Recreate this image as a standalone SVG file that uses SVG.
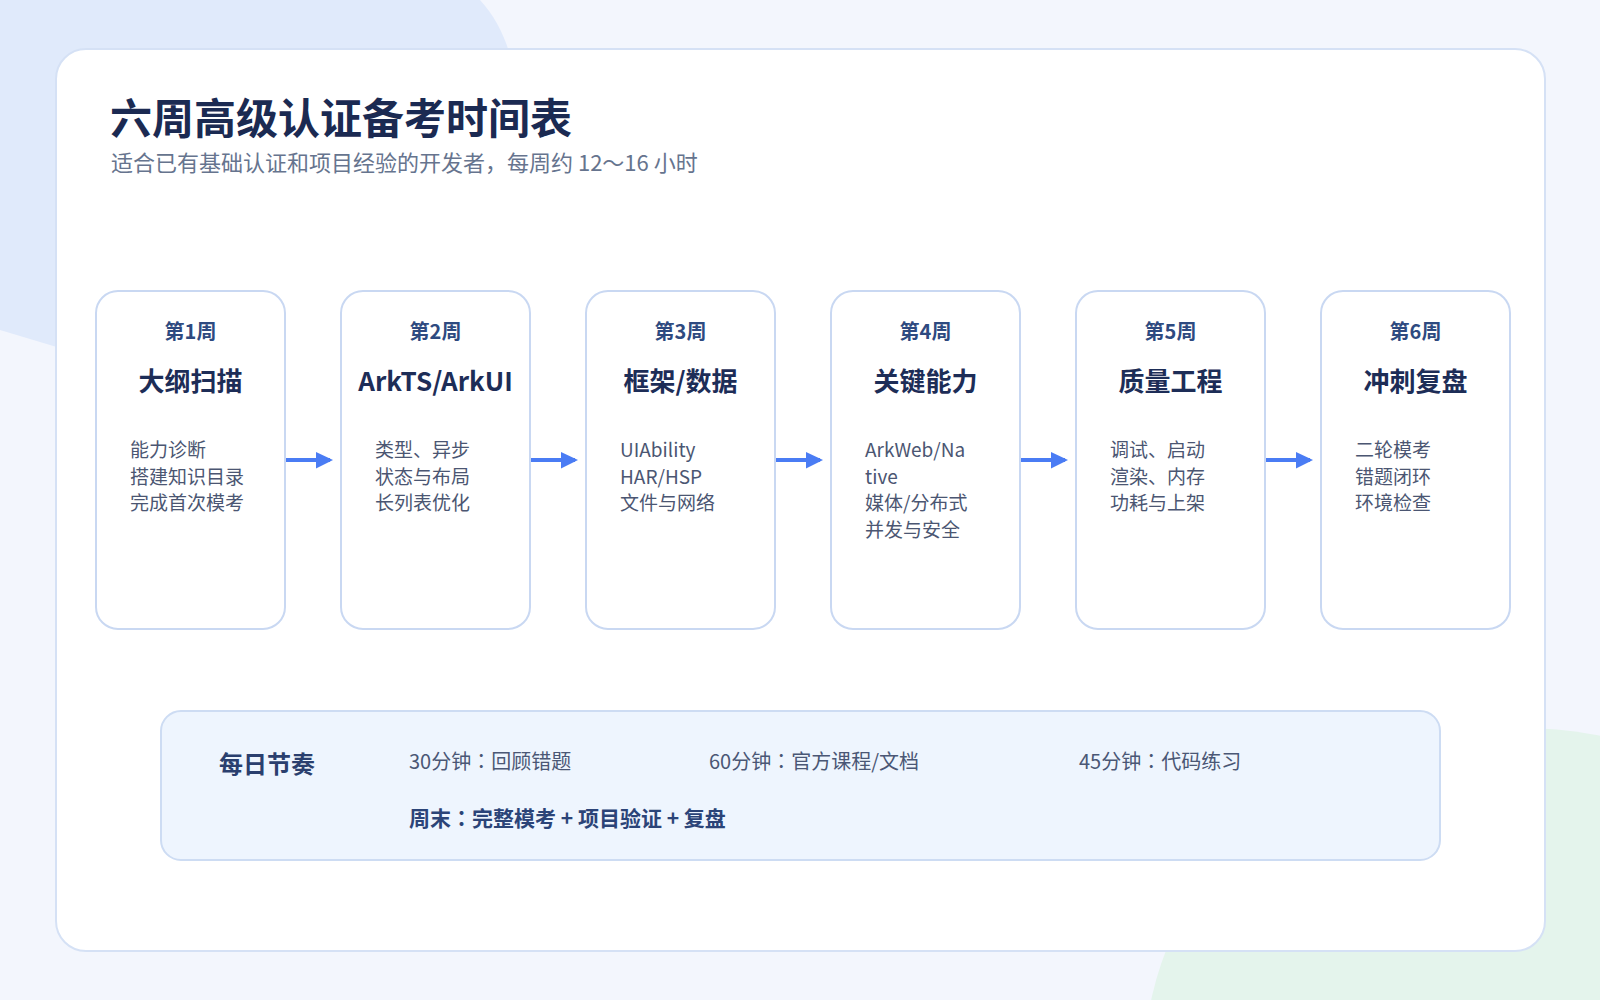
<svg xmlns="http://www.w3.org/2000/svg" width="1600" height="1000" viewBox="0 0 1600 1000">
  <defs>
    <style>
      text { font-family: "Noto Sans CJK SC", "Noto Sans", "Liberation Sans", sans-serif; }
      .jp { font-family: "Noto Sans CJK JP", "Noto Sans CJK SC", sans-serif; }
      .title { font-size: 42px; font-weight: 700; fill: #1b2a52; }
      .subtitle { font-size: 22px; fill: #66748e; }
      .card { fill: #ffffff; stroke: #c9d8f2; stroke-width: 2; }
      .week { font-size: 20px; font-weight: 700; fill: #2e4a80; text-anchor: middle; }
      .head { font-size: 26px; font-weight: 700; fill: #1d2d57; text-anchor: middle; }
      .body { font-size: 19px; fill: #4b5672; }
      .conn { stroke: #4a7cf4; stroke-width: 4; fill: none; }
      .tip { fill: #4a7cf4; }
      .rhythm-label { font-size: 24px; font-weight: 700; fill: #2a3f6e; }
      .rhythm { font-size: 20px; fill: #4a5775; }
      .weekend { font-size: 21px; font-weight: 700; fill: #2b4478; }
    </style>
  </defs>

  <!-- background -->
  <rect x="0" y="0" width="1600" height="1000" fill="#f3f6fd"/>
  <path d="M0,0 L480,0 C493,14 503,32 509,52 L515,220 L60,348 C40,342 20,336 0,330 Z" fill="#e0eafb"/>
  <ellipse cx="1520" cy="1060" rx="375" ry="332" fill="#e4f4ec"/>

  <!-- main card -->
  <rect x="56" y="49" width="1489" height="902" rx="30" ry="30" fill="#ffffff" stroke="#d5e1f5" stroke-width="2"/>

  <text class="title" x="110" y="134">六周高级认证备考时间表</text>
  <text class="subtitle" x="111" y="171">适合已有基础认证和项目经验的开发者，每周约 12～16 小时</text>

  <!-- connectors -->
  <g id="connectors">
    <line class="conn" x1="285" y1="460" x2="330" y2="460"/>
    <polygon class="tip" points="316,452 333,460 316,468.5"/>
    <line class="conn" x1="530" y1="460" x2="575" y2="460"/>
    <polygon class="tip" points="561,452 578,460 561,468.5"/>
    <line class="conn" x1="775" y1="460" x2="820" y2="460"/>
    <polygon class="tip" points="806,452 823,460 806,468.5"/>
    <line class="conn" x1="1020" y1="460" x2="1065" y2="460"/>
    <polygon class="tip" points="1051,452 1068,460 1051,468.5"/>
    <line class="conn" x1="1265" y1="460" x2="1310" y2="460"/>
    <polygon class="tip" points="1296,452 1313,460 1296,468.5"/>
  </g>

  <!-- week cards -->
  <g id="week1">
    <rect class="card" x="96" y="291" width="189" height="338" rx="22" ry="22"/>
    <text class="week" x="190.5" y="339">第1周</text>
    <text class="head" x="190.5" y="391">大纲扫描</text>
    <text class="body" x="130" y="457">能力诊断</text>
    <text class="body" x="130" y="483.5">搭建知识目录</text>
    <text class="body" x="130" y="510">完成首次模考</text>
  </g>
  <g id="week2">
    <rect class="card" x="341" y="291" width="189" height="338" rx="22" ry="22"/>
    <text class="week" x="435.5" y="339">第2周</text>
    <text class="head" x="435.5" y="391">ArkTS/ArkUI</text>
    <text class="body" x="375" y="457">类型、异步</text>
    <text class="body" x="375" y="483.5">状态与布局</text>
    <text class="body" x="375" y="510">长列表优化</text>
  </g>
  <g id="week3">
    <rect class="card" x="586" y="291" width="189" height="338" rx="22" ry="22"/>
    <text class="week" x="680.5" y="339">第3周</text>
    <text class="head" x="680.5" y="391">框架/数据</text>
    <text class="body" x="620" y="457">UIAbility</text>
    <text class="body" x="620" y="483.5">HAR/HSP</text>
    <text class="body" x="620" y="510">文件与网络</text>
  </g>
  <g id="week4">
    <rect class="card" x="831" y="291" width="189" height="338" rx="22" ry="22"/>
    <text class="week" x="925.5" y="339">第4周</text>
    <text class="head" x="925.5" y="391">关键能力</text>
    <text class="body" x="865" y="457">ArkWeb/Na</text>
    <text class="body" x="865" y="483.5">tive</text>
    <text class="body" x="865" y="510">媒体/分布式</text>
    <text class="body" x="865" y="536.5">并发与安全</text>
  </g>
  <g id="week5">
    <rect class="card" x="1076" y="291" width="189" height="338" rx="22" ry="22"/>
    <text class="week" x="1170.5" y="339">第5周</text>
    <text class="head" x="1170.5" y="391">质量工程</text>
    <text class="body" x="1110" y="457">调试、启动</text>
    <text class="body" x="1110" y="483.5">渲染、内存</text>
    <text class="body" x="1110" y="510">功耗与上架</text>
  </g>
  <g id="week6">
    <rect class="card" x="1321" y="291" width="189" height="338" rx="22" ry="22"/>
    <text class="week" x="1415.5" y="339">第6周</text>
    <text class="head" x="1415.5" y="391">冲刺复盘</text>
    <text class="body" x="1355" y="457">二轮模考</text>
    <text class="body" x="1355" y="483.5">错题闭环</text>
    <text class="body" x="1355" y="510">环境检查</text>
  </g>

  <!-- daily rhythm -->
  <g id="daily-rhythm">
    <rect x="161" y="711" width="1279" height="149" rx="20" ry="20" fill="#eef5fe" stroke="#cddcf3" stroke-width="2"/>
    <text class="rhythm-label" x="219" y="773">每日节奏</text>
    <text class="rhythm" x="409" y="769">30分钟<tspan class="jp">：</tspan>回顾错题</text>
    <text class="rhythm" x="709" y="769">60分钟<tspan class="jp">：</tspan>官方课程/文档</text>
    <text class="rhythm" x="1079" y="769">45分钟<tspan class="jp">：</tspan>代码练习</text>
    <text class="weekend" x="409" y="826">周末<tspan class="jp">：</tspan>完整模考 + 项目验证 + 复盘</text>
  </g>
</svg>
